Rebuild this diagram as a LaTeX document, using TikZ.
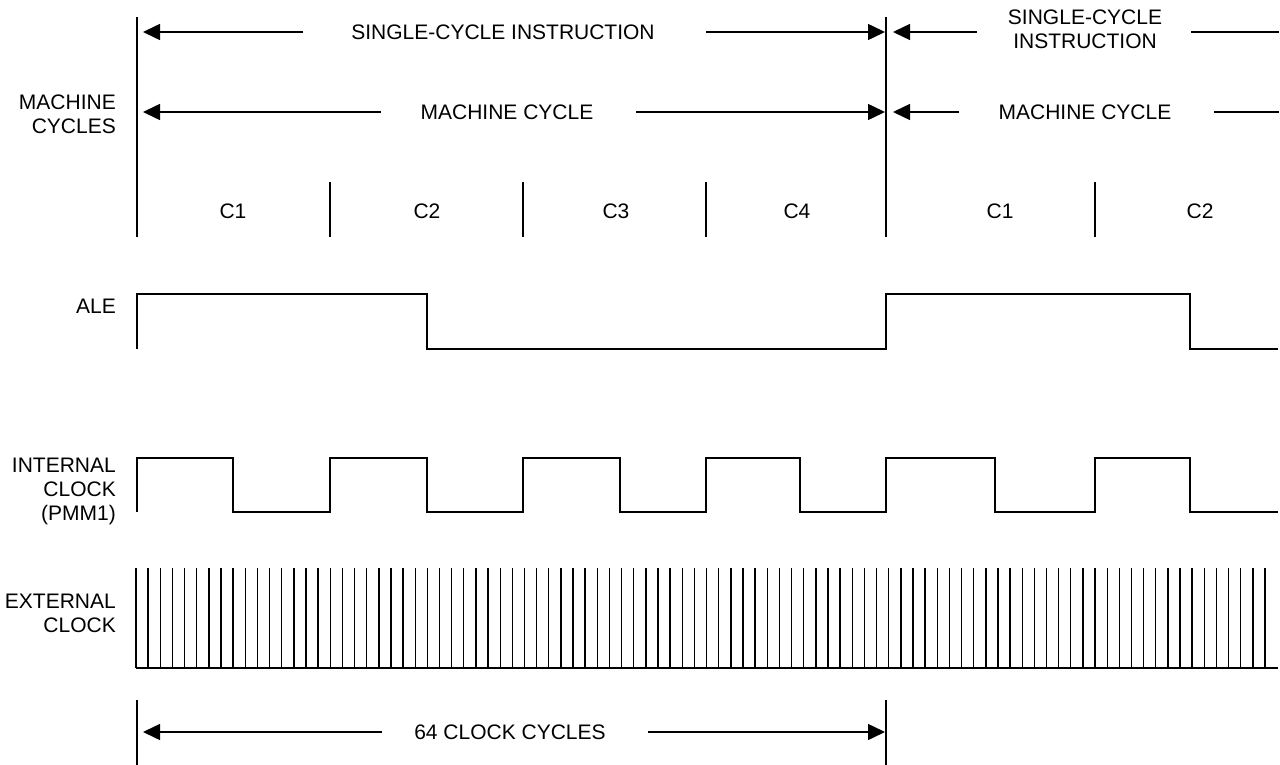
\documentclass[tikz,border=0pt]{standalone}
\usepackage{fontspec}
\setmainfont{Liberation Sans}
\usetikzlibrary{arrows.meta}
\begin{document}
\begin{tikzpicture}[x=1pt,y=-1pt,
  wire/.style={line width=1.5pt,line cap=rect},
  tick/.style={line width=1.5pt},
  arr/.style={line width=1.5pt,-{Triangle[length=17pt,width=16pt]}},
  lbl/.style={font=\fontsize{21}{24}\selectfont,inner sep=0pt},
  side/.style={lbl,anchor=east,align=right}]
\useasboundingbox (0,0) rectangle (1280,765);
% --- vertical markers ---
\coordinate (v0t) at (137,17);  \coordinate (v0b) at (137,237);
\coordinate (v4t) at (886,17);  \coordinate (v4b) at (886,237);
\draw[tick] (v0t) -- (v0b);
\draw[tick] (v4t) -- (v4b);
\foreach \x/\n in {330/a,523/b,706/c,1095/d}{
  \coordinate (d\n t) at (\x,182); \coordinate (d\n b) at (\x,237);
  \draw[tick] (d\n t) -- (d\n b);
}
% --- left labels ---
\node[side] (mc) at (116,114) {MACHINE\\CYCLES};
\node[side] (ale) at (116,306) {ALE};
\node[side] (ic) at (116,491) {INTERNAL\\CLOCK\\(PMM1)};
\node[side] (ec) at (116,613) {EXTERNAL\\CLOCK};
% --- row 1: single-cycle instruction ---
\node[lbl] (sci) at (503,32) {SINGLE-CYCLE INSTRUCTION};
\coordinate (sciL) at (303,32); \coordinate (sciLt) at (143,32);
\coordinate (sciR) at (706,32); \coordinate (sciRt) at (885,32);
\draw[arr] (sciL) -- (sciLt);
\draw[arr] (sciR) -- (sciRt);
\node[lbl,align=center] (sci2) at (1085,29) {SINGLE-CYCLE\\INSTRUCTION};
\coordinate (sci2L) at (977,32); \coordinate (sci2Lt) at (893,32);
\coordinate (sci2R) at (1192,32); \coordinate (sci2Re) at (1278,32);
\draw[arr] (sci2L) -- (sci2Lt);
\draw[wire] (sci2R) -- (sci2Re);
% --- row 2: machine cycle ---
\node[lbl] (mcy) at (507,112) {MACHINE CYCLE};
\coordinate (mcyL) at (381,112); \coordinate (mcyLt) at (143,112);
\coordinate (mcyR) at (636,112); \coordinate (mcyRt) at (885,112);
\draw[arr] (mcyL) -- (mcyLt);
\draw[arr] (mcyR) -- (mcyRt);
\node[lbl] (mcy2) at (1085,112) {MACHINE CYCLE};
\coordinate (mcy2L) at (959,112); \coordinate (mcy2Lt) at (893,112);
\coordinate (mcy2R) at (1215,112); \coordinate (mcy2Re) at (1278,112);
\draw[arr] (mcy2L) -- (mcy2Lt);
\draw[wire] (mcy2R) -- (mcy2Re);
% --- cycle labels ---
\foreach \x/\t/\n in {233/C1/c1,427/C2/c2,616/C3/c3,797/C4/c4,1000/C1/c5,1200/C2/c6}{
  \node[lbl] (\n) at (\x,211) {\t};
}
% --- ALE ---
\draw[wire,line cap=butt] (137,349) -- (137,294) -- (427,294) -- (427,349) -- (886,349)
  -- (886,294) -- (1190,294) -- (1190,349) -- (1278,349);
% --- internal clock ---
\draw[wire,line cap=butt] (137,512) -- (137,458) -- (233,458) -- (233,512) -- (330,512)
  -- (330,458) -- (427,458) -- (427,512) -- (523,512)
  -- (523,458) -- (620,458) -- (620,512) -- (706,512)
  -- (706,458) -- (800,458) -- (800,512) -- (886,512)
  -- (886,458) -- (995,458) -- (995,512) -- (1095,512)
  -- (1095,458) -- (1190,458) -- (1190,512) -- (1278,512);
% --- external clock ---
\foreach \k in {0,...,93}{
  \draw[line width=1.4pt] (136+\k*12.14,568) -- (136+\k*12.14,668);
}
\draw[line width=1.5pt] (136,668) -- (1278,668);
% --- 64 clock cycles ---
\coordinate (b0t) at (137,700); \coordinate (b0b) at (137,765);
\coordinate (b1t) at (886,700); \coordinate (b1b) at (886,765);
\draw[tick] (b0t) -- (b0b);
\draw[tick] (b1t) -- (b1b);
\node[lbl] (ccy) at (510,732) {64 CLOCK CYCLES};
\coordinate (ccyL) at (382,732); \coordinate (ccyLt) at (143,732);
\coordinate (ccyR) at (648,732); \coordinate (ccyRt) at (885,732);
\draw[arr] (ccyL) -- (ccyLt);
\draw[arr] (ccyR) -- (ccyRt);
\end{tikzpicture}
\end{document}
